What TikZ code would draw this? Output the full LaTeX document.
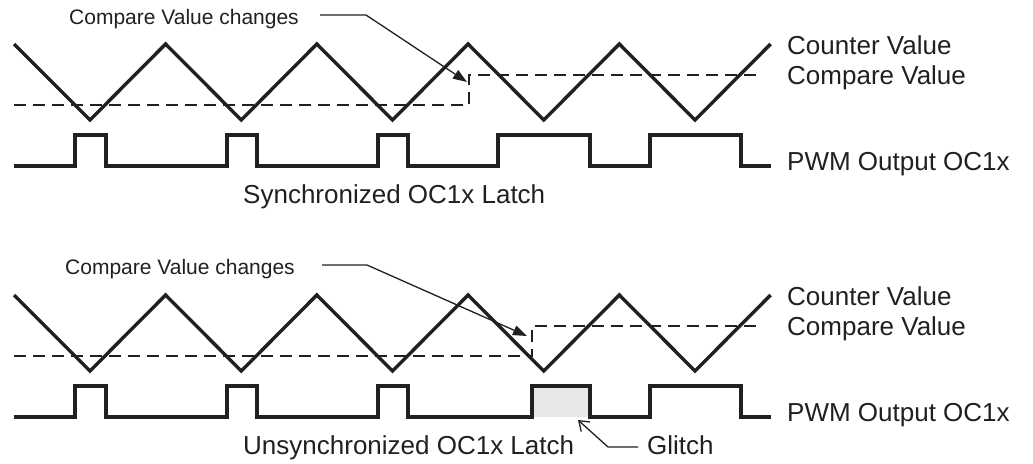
\documentclass[tikz,border=0pt]{standalone}
\usepackage{fontspec}
\setmainfont{Liberation Sans}
\usetikzlibrary{positioning,arrows.meta,calc}
\definecolor{glitchcol}{HTML}{E6E7E8}
\definecolor{inkcol}{HTML}{231F20}
\newcommand{\counterwave}[1]{% #1 vertical offset of the panel
  \draw[wave] (14,#1+44) foreach \vx in {90,241.25,392.5,543.75} {-- (\vx,#1+120) -- (\vx+75.6,#1+44)} -- (695,#1+120) -- (770.6,#1+44);
}
\newcommand{\comparestep}[2]{% #1 vertical offset, #2 x where the compare value changes
  \draw[cmpline] (14,#1+105) -- (#2,#1+105) -- (#2,#1+75) -- (761,#1+75);
}
\newcommand{\pwmtrace}[2]{% #1 vertical offset, #2 rise/fall pairs
  \draw[wave] (14,#1+166) foreach \r/\f in {#2} {-- (\r,#1+166) -- (\r,#1+135) -- (\f,#1+135) -- (\f,#1+166)} -- (771,#1+166);
}
\begin{document}
\begin{tikzpicture}[x=1pt,y=-1pt,
    every node/.style={inner sep=0pt, text=inkcol},
    lbl/.style={font=\fontsize{26}{30}\selectfont, anchor=base west},
    note/.style={font=\fontsize{21}{25}\selectfont, anchor=base west},
    wave/.style={draw=inkcol, line width=3.4pt},
    cmpline/.style={draw=inkcol, line width=1.6pt, dash pattern=on 12pt off 7pt},
    leader/.style={draw=inkcol, line width=1.3pt},
    tiparrow/.style={-{Triangle[length=14pt,width=10pt]}},
    barbarrow/.style={-{Straight Barb[length=9pt,width=13pt]}}]
  \useasboundingbox (0,0) rectangle (1033,463);
  % synchronized latch
  \node[note] (chgA) at (69,24) {Compare Value changes};
  \coordinate (chgAs) at (320,15);
  \coordinate (chgAk) at (366,15);
  \coordinate (tipA) at (467,82);
  \comparestep{0}{469}
  \counterwave{0}
  \pwmtrace{0}{75/106,227/257,378/408,498/590,650/741}
  \draw[leader,tiparrow] (chgAs) -- (chgAk) -- (tipA);
  \node[lbl] (cntA) at (787,54) {Counter Value};
  \node[lbl] (cmpA) at (787,84) {Compare Value};
  \node[lbl] (pwmA) at (787,170) {PWM Output OC1x};
  \node[lbl] (sync) at (243,203) {Synchronized OC1x Latch};
  % unsynchronized latch
  \fill[glitchcol] (532,386) rectangle (590,417);
  \node[note] (chgB) at (65,274) {Compare Value changes};
  \coordinate (chgBs) at (322,265);
  \coordinate (chgBk) at (367,265);
  \coordinate (tipB) at (527,336);
  \comparestep{251}{532}
  \counterwave{251}
  \pwmtrace{251}{75/106,227/257,378/408,532/590,650/741}
  \draw[leader,tiparrow] (chgBs) -- (chgBk) -- (tipB);
  \node[lbl] (cntB) at (787,305) {Counter Value};
  \node[lbl] (cmpB) at (787,335) {Compare Value};
  \node[lbl] (pwmB) at (787,421) {PWM Output OC1x};
  \node[lbl] (unsync) at (243,454) {Unsynchronized OC1x Latch};
  \node[lbl] (glitch) at (647,454) {Glitch};
  \coordinate (glk) at (608,447);
  \coordinate (gtip) at (578,420);
  \draw[leader,barbarrow] ([xshift=-9pt]glitch.west |- glk) -- (glk) -- (gtip);
\end{tikzpicture}
\end{document}
